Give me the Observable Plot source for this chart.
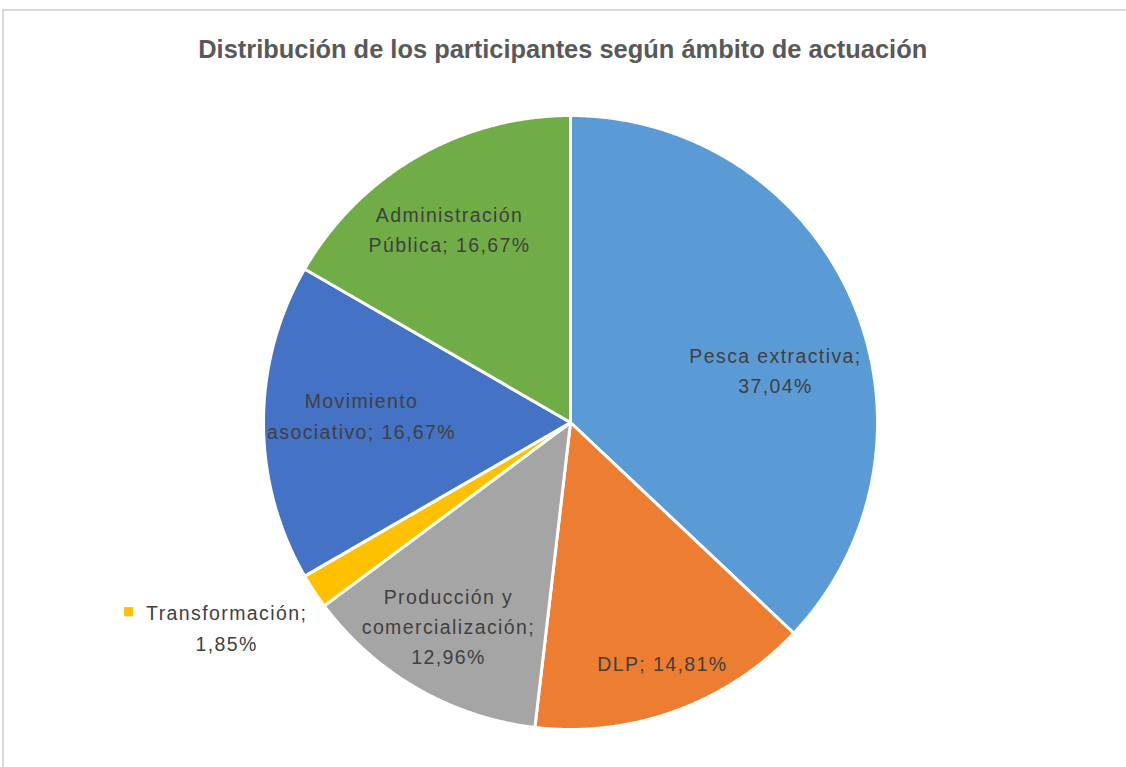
<!DOCTYPE html>
<html>
<head>
<meta charset="utf-8">
<script src="https://cdn.jsdelivr.net/npm/d3@7"></script>
<script src="https://cdn.jsdelivr.net/npm/@observablehq/plot@0.6"></script>
<style>
  html, body { margin: 0; padding: 0; background: #fff; }
  #wrap { position: relative; width: 1126px; height: 767px; overflow: hidden; }
  #border { position: absolute; left: 2px; top: 9px; width: 1200px; height: 800px;
            border-left: 2px solid #d9d9d9; border-top: 2px solid #d9d9d9; }
  #title { position: absolute; left: 0; top: 31px; width: 1126px; text-align: center;
           font-family: "Liberation Sans", Arial, sans-serif; font-weight: bold;
           font-size: 26px; color: #595959; line-height: 36px; white-space: nowrap; }
  #title span { display: inline-block; transform-origin: center; }
  #chart { position: absolute; left: 0; top: 80px; }
</style>
</head>
<body>
<div id="wrap">
  <div id="border"></div>
  <div id="title"><span>Distribución de los participantes según ámbito de actuación</span></div>
  <div id="chart"></div>
</div>
<script>
// ---- data ----
const categories = ["Pesca extractiva", "DLP", "Producción y comercialización", "Transformación", "Movimiento asociativo", "Administración Pública"];
const values = [37.04, 14.81, 12.96, 1.85, 16.67, 16.67];
const labelLines = [
  "Pesca extractiva;\n37,04%",
  "DLP; 14,81%",
  "Producción y\ncomercialización;\n12,96%",
  "Transformación;\n1,85%",
  "Movimiento\nasociativo; 16,67%",
  "Administración\nPública; 16,67%"
];
const colors = ["#5B9BD5", "#ED7D31", "#A5A5A5", "#FFC000", "#4472C4", "#70AD47"];

// ---- layout ----
const W = 1126, H = 687;
const cx = 570, cy = 342, R = 307;
const labelRadius = [0.688, 0.843, 0.777, 1.306, 0.681, 0.739];
const labelAngleShift = [9.36, -0.8, 0.8, 2.4, 1.6, -2.2];

const pie = d3.pie().sort(null).value(d => d)(values);
const toXY = (a, r) => [cx + r * Math.sin(a), cy - r * Math.cos(a)];

const slices = pie.map((p, i) => {
  const pts = [{x: cx, y: cy}];
  const n = Math.max(2, Math.ceil((p.endAngle - p.startAngle) / (Math.PI / 720)));
  for (let k = 0; k <= n; k++) {
    const a = p.startAngle + (p.endAngle - p.startAngle) * k / n;
    const [x, y] = toXY(a, R);
    pts.push({x, y});
  }
  pts.push({x: cx, y: cy});
  return {pts, color: colors[i]};
});

const labels = pie.map((p, i) => {
  const mid = (p.startAngle + p.endAngle) / 2 + labelAngleShift[i] * Math.PI / 180;
  const [x, y] = toXY(mid, R * labelRadius[i]);
  return {x, y, text: labelLines[i], name: categories[i]};
});
const outside = labels.filter((d, i) => labelRadius[i] > 1);

const chart = Plot.plot({
  width: W, height: H,
  margin: 0,
  x: {domain: [0, W], range: [0, W], axis: null},
  y: {domain: [0, H], range: [0, H], axis: null},
  style: {background: "transparent", overflow: "visible"},
  marks: [
    ...slices.map(s => Plot.line(s.pts, {x: "x", y: "y", fill: s.color, stroke: "#fff", strokeWidth: 3, strokeLinejoin: "round", curve: "linear"})),
    Plot.dot(outside, {x: "x", y: "y", symbol: "square", r: 5.2, fill: "#FFC000", stroke: null, dx: -98, dy: -17}),
    Plot.text(labels, {x: "x", y: "y", text: "text", fill: "#404040", fontSize: 19.5, lineHeight: 1.55, dy: -3,
      fontFamily: "Liberation Sans, Arial, sans-serif", textAnchor: "middle"})
  ]
});
chart.querySelectorAll("text").forEach(t => t.setAttribute("letter-spacing", "1.4"));
document.getElementById("chart").appendChild(chart);

// fit title width to reference
const span = document.querySelector("#title span");
const w = span.getBoundingClientRect().width;
span.style.transform = `scaleX(${729 / w})`;
</script>
</body>
</html>
